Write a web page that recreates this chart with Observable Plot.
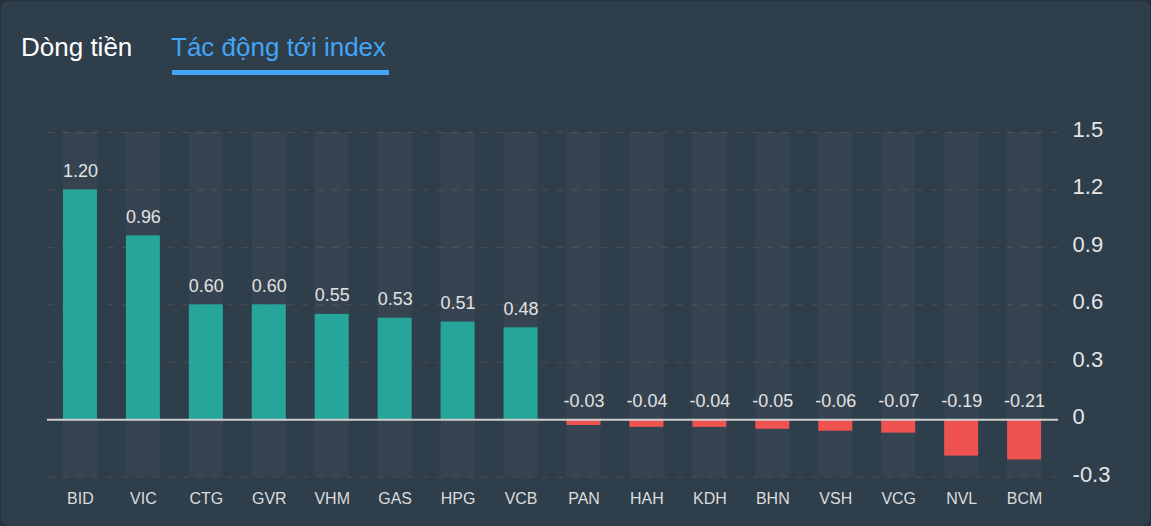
<!DOCTYPE html>
<html>
<head>
<meta charset="utf-8">
<script src="https://cdn.jsdelivr.net/npm/d3@7"></script>
<script src="https://cdn.jsdelivr.net/npm/@observablehq/plot@0.6"></script>
<style>
  html, body { margin: 0; padding: 0; background: #26323e; }
  #card {
    position: relative; width: 1151px; height: 526px; box-sizing: border-box;
    background: #2f3e4b; border-radius: 8px; border: 1px solid #28343f; overflow: hidden;
    font-family: "Liberation Sans", Arial, sans-serif;
  }
  .tab { position: absolute; top: 30px; font-size: 26px; line-height: 32px; white-space: nowrap; }
  #tab1 { left: 20px; color: #ffffff; }
  #tab2 { left: 170px; color: #42a5f5; }
  #underline { position: absolute; left: 171px; top: 69px; width: 217px; height: 5px; background: #42a5f5; }
  #chart { position: absolute; left: -1px; top: 99px; }
</style>
</head>
<body>
<div id="card">
  <div class="tab" id="tab1">Dòng tiền</div>
  <div class="tab" id="tab2">Tác động tới index</div>
  <div id="underline"></div>
  <div id="chart"></div>
</div>
<script>
const tickers = ["BID","VIC","CTG","GVR","VHM","GAS","HPG","VCB","PAN","HAH","KDH","BHN","VSH","VCG","NVL","BCM"];
const impacts = [1.20, 0.96, 0.60, 0.60, 0.55, 0.53, 0.51, 0.48, -0.03, -0.04, -0.04, -0.05, -0.06, -0.07, -0.19, -0.21];
const yTicks = [-0.3, 0, 0.3, 0.6, 0.9, 1.2, 1.5];
const yDomain = [-0.3, 1.5];

const data = tickers.map((t, i) => ({ticker: t, value: impacts[i]}));

const chart = Plot.plot({
  width: 1151,
  height: 426,
  marginTop: 32,
  marginBottom: 49,
  marginLeft: 47,
  marginRight: 92,
  style: {background: "transparent", fontFamily: "'Liberation Sans', Arial, sans-serif", overflow: "visible"},
  x: {domain: tickers, paddingInner: 0.46, paddingOuter: 0.237, label: null},
  y: {domain: yDomain, label: null},
  marks: [
    Plot.ruleY(yTicks, {stroke: "#6e5a45", strokeOpacity: 0.55, strokeDasharray: "7,8", strokeWidth: 1}),
    Plot.barY(data, {x: "ticker", y1: yDomain[0], y2: yDomain[1], fill: "#ffffff", fillOpacity: 0.035}),
    Plot.barY(data, {x: "ticker", y: "value", fill: d => d.value >= 0 ? "#26a69a" : "#ef5350"}),
    Plot.ruleY([0], {stroke: "#cfcfcf", strokeWidth: 2}),
    Plot.text(data, {x: "ticker", y: d => Math.max(d.value, 0), text: d => d.value.toFixed(2),
      lineAnchor: "bottom", dy: -13, fill: "#e2e2e2", fontSize: 18}),
    Plot.axisY({anchor: "right", ticks: yTicks, tickSize: 0, tickPadding: 14, fontSize: 22, dy: -2.5,
      tickFormat: d => d === 0 ? "0" : d.toFixed(1), fill: "#e6e6e6", label: null}),
    Plot.axisX({tickSize: 0, tickPadding: 15.5, fontSize: 16, fill: "#dcdcdc", label: null})
  ]
});
document.getElementById("chart").appendChild(chart);
</script>
</body>
</html>
